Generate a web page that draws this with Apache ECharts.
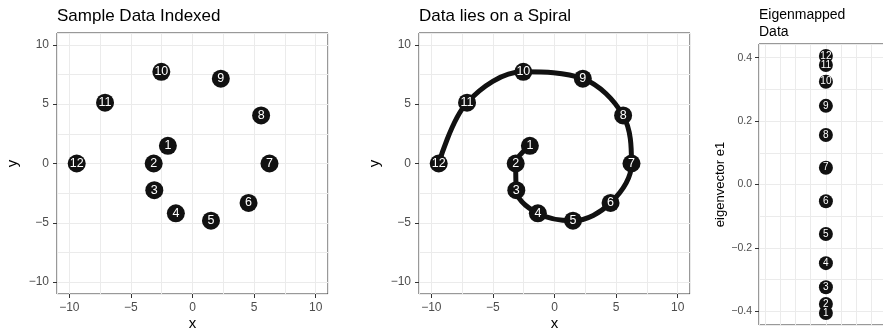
<!DOCTYPE html>
<html>
<head>
<meta charset="utf-8">
<script src="https://cdn.jsdelivr.net/npm/echarts@6/dist/echarts.min.js"></script>
<style>
  html, body { margin: 0; padding: 0; background: #fff; }
  #chart { width: 883px; height: 329px; }
</style>
</head>
<body>
<div id="chart"></div>
<script>
// Point labels (index of each sample)
const pointIds = ['1', '2', '3', '4', '5', '6', '7', '8', '9', '10', '11', '12'];
// Sample coordinates
const sampleX = [-2.0, -3.15, -3.1, -1.35, 1.5, 4.55, 6.25, 5.57, 2.3, -2.53, -7.1, -9.4];
const sampleY = [1.49, 0, -2.25, -4.2, -4.82, -3.32, 0, 4.05, 7.15, 7.73, 5.13, 0];
// First eigenvector value of each sample
const eigenE1 = [-0.405, -0.377, -0.324, -0.248, -0.156, -0.053, 0.053, 0.156, 0.248, 0.324, 0.377, 0.405];
const eigenLane = 0;

// Axis breaks
const xyTicks = [-10, -5, 0, 5, 10];
const e1Ticks = [-0.4, -0.2, 0, 0.2, 0.4];
const xyGridStep = 2.5;
const e1GridStep = 0.1;
const laneGridStep = 1;

const FONT = '"Liberation Sans", Arial, Helvetica, sans-serif';
const GRID_COLOR = '#ebebeb';
const BORDER = '#333333';
const INK = '#111111';

const minus = (s) => String(s).replace('-', '\u2212');

// Visible axis: ticks + labels at the major breaks
function mainAxis(dim, gridIndex, min, max, ticks, fmt, extra) {
  return Object.assign({
    type: 'value', gridIndex, min, max,
    position: dim === 'x' ? 'bottom' : 'left',
    axisLine: { show: false, onZero: false },
    axisTick: { show: true, length: 4, lineStyle: { color: BORDER, width: 1 }, customValues: ticks },
    axisLabel: {
      show: true, customValues: ticks, color: '#4d4d4d', fontSize: 12, fontFamily: FONT,
      margin: 8, formatter: fmt
    },
    splitLine: { show: false }
  }, extra || {});
}

// Hidden companion axis that only draws the panel grid lines (fixed step)
function gridAxis(dim, gridIndex, min, max, step) {
  return {
    type: 'value', gridIndex, min, max,
    minInterval: step, maxInterval: step, splitNumber: 20,
    position: dim === 'x' ? 'top' : 'right',
    axisLine: { show: false, onZero: false },
    axisTick: { show: false },
    axisLabel: { show: false },
    splitLine: { show: true, lineStyle: { color: GRID_COLOR, width: 1 } }
  };
}

const xyFmt = (v) => minus(v);
const e1Fmt = (v) => minus(Number(v).toFixed(1));

const samplePoints = sampleX.map((x, i) => [x, sampleY[i], pointIds[i]]);
const eigenPoints = eigenE1.map((e, i) => [eigenLane, e, pointIds[i]]);

const nameStyle = { color: '#000', fontSize: 15, fontFamily: FONT };
const titleStyle = (size, lh) => ({ fontSize: size, fontWeight: 'normal', color: '#000', fontFamily: FONT, lineHeight: lh });
const xName = { name: 'x', nameLocation: 'middle', nameGap: 22, nameMoveOverlap: false, nameTextStyle: nameStyle };
const yName = { name: 'y', nameLocation: 'middle', nameGap: 37, nameTextStyle: nameStyle };

const pointLabel = (size) => ({
  show: true, position: 'inside', color: '#fff', fontSize: size, fontFamily: FONT,
  formatter: (p) => p.value[2]
});

const panel = (left, top, width, height) => ({
  left, top, width, height, show: true, borderColor: BORDER, borderWidth: 1,
  backgroundColor: 'transparent', containLabel: false, outerBoundsMode: 'none'
});

const option = {
  animation: false,
  backgroundColor: '#fff',
  title: [
    { text: 'Sample Data Indexed', left: 57, top: 8, padding: 0, textStyle: titleStyle(17, 17) },
    { text: 'Data lies on a Spiral', left: 419, top: 8, padding: 0, textStyle: titleStyle(17, 17) },
    { text: 'Eigenmapped\nData', left: 759, top: 7, padding: 0, textStyle: titleStyle(14, 16.7) }
  ],
  grid: [
    panel(57, 33, 271, 261),
    panel(419, 33, 271, 261),
    panel(759, 44, 260, 281)
  ],
  xAxis: [
    mainAxis('x', 0, -11, 11, xyTicks, xyFmt, xName),
    gridAxis('x', 0, -11, 11, xyGridStep),
    mainAxis('x', 1, -11, 11, xyTicks, xyFmt, xName),
    gridAxis('x', 1, -11, 11, xyGridStep),
    { type: 'value', gridIndex: 2, min: -4.4, max: 12.7, position: 'bottom',
      axisLine: { show: false, onZero: false }, axisTick: { show: false }, axisLabel: { show: false }, splitLine: { show: false } },
    gridAxis('x', 2, -4.4, 12.7, laneGridStep)
  ],
  yAxis: [
    mainAxis('y', 0, -11, 11, xyTicks, xyFmt, yName),
    gridAxis('y', 0, -11, 11, xyGridStep),
    mainAxis('y', 1, -11, 11, xyTicks, xyFmt, yName),
    gridAxis('y', 1, -11, 11, xyGridStep),
    mainAxis('y', 2, -0.443, 0.443, e1Ticks, e1Fmt, {
      name: 'eigenvector e1', nameLocation: 'middle', nameGap: 30,
      nameTextStyle: { color: '#000', fontSize: 13, fontFamily: FONT },
      axisLabel: { show: true, customValues: e1Ticks, color: '#4d4d4d', fontSize: 10.5, fontFamily: FONT, margin: 7, formatter: e1Fmt }
    }),
    gridAxis('y', 2, -0.443, 0.443, e1GridStep)
  ],
  series: [
    { type: 'scatter', xAxisIndex: 0, yAxisIndex: 0, data: samplePoints, symbolSize: 18,
      itemStyle: { color: INK, opacity: 1 }, label: pointLabel(12.5), z: 3 },
    { type: 'line', xAxisIndex: 2, yAxisIndex: 2, data: samplePoints, smooth: 0.35, symbol: 'none',
      lineStyle: { color: INK, width: 5 }, z: 2 },
    { type: 'scatter', xAxisIndex: 2, yAxisIndex: 2, data: samplePoints, symbolSize: 18,
      itemStyle: { color: INK, opacity: 1 }, label: pointLabel(12.5), z: 3 },
    { type: 'scatter', xAxisIndex: 4, yAxisIndex: 4, data: eigenPoints, symbolSize: 14,
      itemStyle: { color: INK, opacity: 1 }, label: pointLabel(10), z: 3 }
  ]
};

const chart = echarts.init(document.getElementById('chart'), null, { renderer: 'canvas' });
chart.setOption(option);
</script>
</body>
</html>
